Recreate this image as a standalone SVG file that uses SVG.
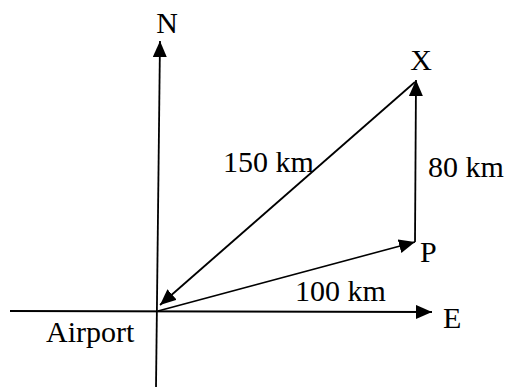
<svg xmlns="http://www.w3.org/2000/svg" width="511" height="387" viewBox="0 0 511 387">
<defs>
<style>
.ln{stroke:#000;stroke-width:1.8;fill:none}
.t{font-size:30px;fill:#000}
</style>
<marker id="ah" viewBox="0 0 16 14" refX="16" refY="7" markerWidth="16" markerHeight="14" markerUnits="userSpaceOnUse" orient="auto">
<path d="M0,0 L16,7 L0,14 Z" fill="#000"/>
</marker>
</defs>
<g id="connectors">
<line class="ln" x1="156" y1="387" x2="160" y2="41" marker-end="url(#ah)"/>
<line class="ln" x1="10" y1="311" x2="432" y2="312" marker-end="url(#ah)"/>
<line class="ln" x1="158" y1="311" x2="415" y2="242" marker-end="url(#ah)"/>
<line class="ln" x1="415" y1="242" x2="416" y2="80" marker-end="url(#ah)"/>
<line class="ln" x1="415" y1="82" x2="160" y2="305" marker-end="url(#ah)"/>
</g>
<g font-family="'Liberation Serif', 'DejaVu Serif', serif">
<g id="N"><text class="t" x="167" y="33" text-anchor="middle">N</text></g>
<g id="E"><text class="t" x="443" y="328">E</text></g>
<g id="X"><text class="t" x="421" y="70" text-anchor="middle">X</text></g>
<g id="P"><text class="t" x="420" y="262">P</text></g>
<g id="Airport"><text class="t" x="46" y="342">Airport</text></g>
<g id="lbl150"><text class="t" x="223" y="172">150 km</text></g>
<g id="lbl80"><text class="t" x="428" y="177">80 km</text></g>
<g id="lbl100"><text class="t" x="295" y="301">100 km</text></g>
</g>
</svg>
